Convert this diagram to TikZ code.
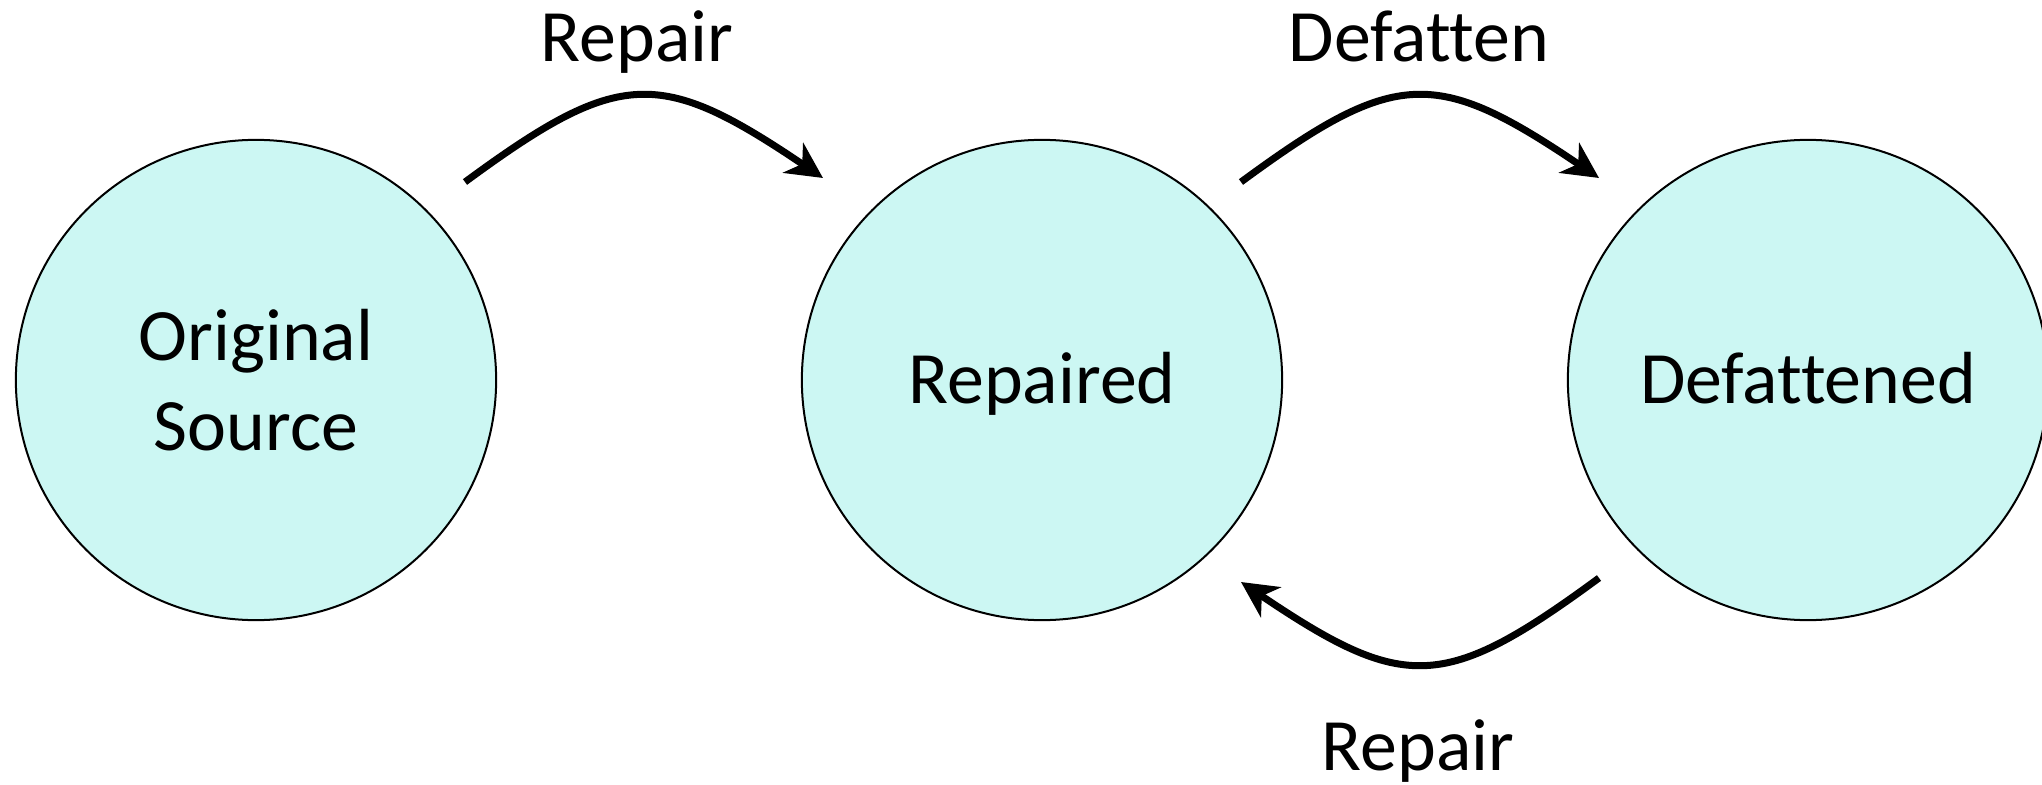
\documentclass[tikz,border=0pt]{standalone}
\usepackage{fontspec}
\setmainfont[Ligatures=NoCommon]{Carlito}
\usetikzlibrary{arrows.meta}
\definecolor{statefill}{RGB}{204,247,243}
\tikzset{
  state/.style={circle, draw=black, line width=0.02cm, fill=statefill,
    minimum size=4.8cm, inner sep=0pt, align=center,
    font=\fontsize{21pt}{25.6pt}\selectfont},
  oneline/.style={text height=13.3pt, text depth=0pt},
  edgelabel/.style={anchor=base, inner sep=0pt,
    font=\fontsize{21pt}{25.6pt}\selectfont},
  flow/.style={line width=0.07cm,
    -{Stealth[length=0.36cm, width=0.36cm, inset=0.11cm]}}
}
\begin{document}
\begin{tikzpicture}[x=0.01cm, y=-0.01cm]
  \useasboundingbox (0,0) rectangle (2042,785);

  % states
  \node[state] (orig) at (256,380) {Original\\Source};
  \node[state, oneline] (rep)  at (1042,380) {Repaired};
  \node[state, oneline] (def)  at (1808,380) {Defattened};

  % free ends of the transition arrows
  \coordinate (r1s) at (465,182);
  \coordinate (r1e) at (823,178);
  \coordinate (d1s) at (1241,182);
  \coordinate (d1e) at (1599,178);
  \coordinate (r2s) at (1599,578);
  \coordinate (r2e) at (1241,582);

  % transitions
  \draw[flow] (r1s) .. controls (620,68) and (660,68) .. (r1e);
  \draw[flow] (d1s) .. controls (1396,68) and (1436,68) .. (d1e);
  \draw[flow] (r2s) .. controls (1444,692) and (1404,692) .. (r2e);

  % transition labels
  \node[edgelabel] (lr1) at (637,62) {Repair};
  \node[edgelabel] (ld1) at (1419,62) {Defatten};
  \node[edgelabel] (lr2) at (1418,770) {Repair};
\end{tikzpicture}
\end{document}
